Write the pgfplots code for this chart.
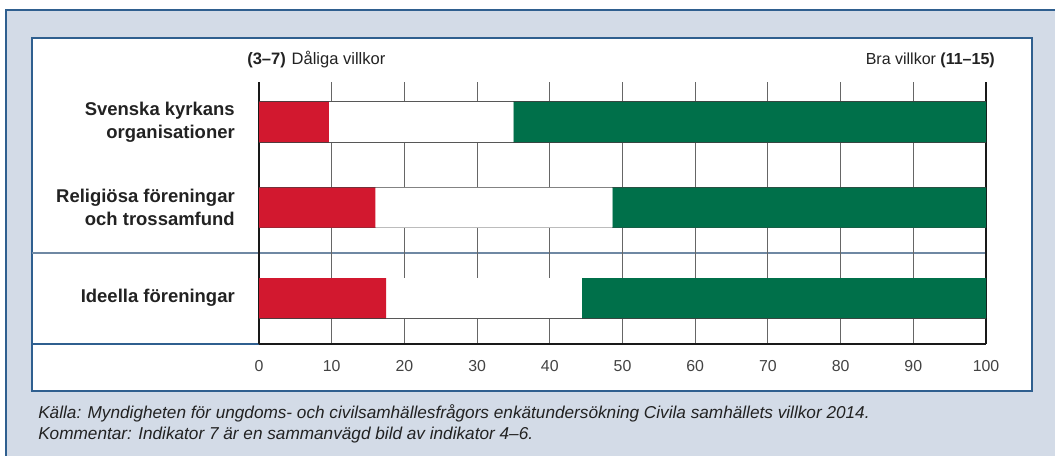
\documentclass[border=0pt]{standalone}
\usepackage{pgfplots}
\pgfplotsset{compat=1.18}
\usepackage{fontspec}
\setmainfont{Liberation Sans}
\definecolor{bg}{HTML}{D3DBE7}
\definecolor{frame}{HTML}{2F5F8F}
\definecolor{sepline}{HTML}{6F88A3}
\definecolor{myred}{HTML}{D2182F}
\definecolor{mygreen}{HTML}{00704A}
\definecolor{txt}{HTML}{222222}
\begin{document}
\begin{tikzpicture}
\begin{scope}[x=0.75pt,y=-0.75pt]
\clip (0,0) rectangle (1055,456);
\fill[white] (0,0) rectangle (1055,456);
\fill[bg] (6,10) rectangle (1060,460);
\draw[frame, line width=1pt] (6,460) -- (6,10) -- (1060,10);
\fill[white] (32,38) rectangle (1032,391);
\draw[frame, line width=0.9pt] (32,38) rectangle (1032,391);
\draw[sepline, line width=1pt] (32,253) -- (986,253);
\draw[frame, line width=0.9pt] (32,344) -- (259,344);
\end{scope}
\begin{axis}[
  at={(194.25pt,-258pt)}, anchor=south west,
  scale only axis, width=545.25pt, height=196.5pt,
  xbar stacked,
  xmin=0, xmax=100, ymin=-344, ymax=-82,
  bar width=40,
  axis x line*=bottom, axis y line*=left,
  axis line style={-, line width=2.2pt, black!90},
  xtick={0,10,...,100},
  xmajorgrids,
  major grid style={black!60, line width=0.8pt},
  major tick length=0pt,
  ytick={-122,-207.5,-298},
  yticklabels={{Svenska kyrkans\\organisationer},{Religiösa föreningar\\och trossamfund},{Ideella föreningar}},
  yticklabel style={align=right, inner sep=0pt, xshift=-18pt, text=txt,
    font=\fontsize{13.85pt}{17.25pt}\selectfont\bfseries},
  xticklabel style={text=txt!85, inner sep=0pt, yshift=-12pt,
    font=\fontsize{11.9pt}{14pt}\selectfont},
  /pgf/number format/assume math mode=true,
  clip=false,
]
\addplot[fill=myred, draw=none] coordinates {(9.6,-122) (16.0,-207.5) (17.5,-298)};
\addplot[fill=white, draw=none] coordinates {(25.4,-122) (32.6,-207.5) (26.9,-298)};
\addplot[fill=mygreen, draw=none] coordinates {(65.0,-122) (51.4,-207.5) (55.6,-298)};
\draw[black!75, line width=0.75pt] (axis cs:0,-102) -- (axis cs:100,-102);
\draw[black!75, line width=0.75pt] (axis cs:0,-142) -- (axis cs:100,-142);
\draw[black!75, line width=0.75pt] (axis cs:0,-187.5) -- (axis cs:100,-187.5);
\draw[black!75, line width=0.75pt] (axis cs:0,-227.5) -- (axis cs:100,-227.5);
\draw[black!75, line width=0.75pt] (axis cs:0,-278) -- (axis cs:100,-278);
\draw[black!75, line width=0.75pt] (axis cs:0,-318) -- (axis cs:100,-318);
\draw[black!90, line width=2.2pt] (axis cs:0,-344) -- (axis cs:0,-82);
\draw[black!90, line width=0.8pt] (axis cs:100,-344) -- (axis cs:100,-82);
\end{axis}
\begin{scope}[x=0.75pt,y=-0.75pt]
\node[anchor=west, inner sep=0pt, text=txt, font=\fontsize{12.4pt}{14pt}\selectfont] at (247,60) {\textbf{(3–7)}\hspace{0.35em}Dåliga villkor};
\node[anchor=east, inner sep=0pt, text=txt, font=\fontsize{12pt}{14pt}\selectfont] at (995,60) {Bra villkor \textbf{(11–15)}};
\node[anchor=west, inner sep=0pt, text=txt, font=\fontsize{12.9pt}{14pt}\selectfont\itshape] at (38,413) {Källa: Myndigheten för ungdoms- och civilsamhällesfrågors enkätundersökning Civila samhällets villkor 2014.};
\node[anchor=west, inner sep=0pt, text=txt, font=\fontsize{12.9pt}{14pt}\selectfont\itshape] at (38,435) {Kommentar: Indikator 7 är en sammanvägd bild av indikator 4–6.};
\end{scope}
\end{tikzpicture}
\end{document}
